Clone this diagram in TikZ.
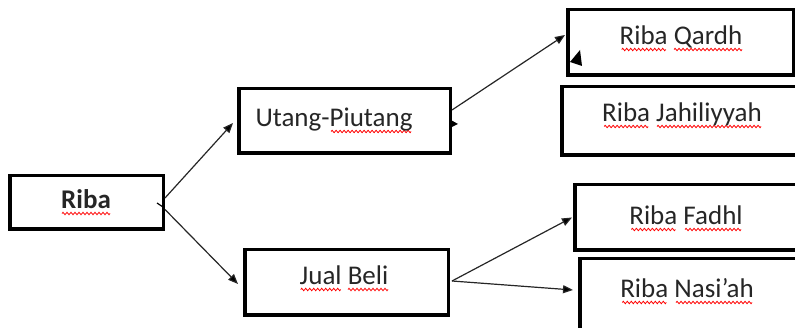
\documentclass[tikz,border=0pt]{standalone}
\usepackage{fontspec}
\setmainfont{Carlito}
\usetikzlibrary{arrows.meta,calc}
\newsavebox\wvbox
\newcommand\wavepiece{\tikz[baseline=0pt]{\path[use as bounding box] (0pt,-1.5pt) rectangle (4pt,1.5pt); \draw[red,line width=0.8pt] (0pt,0pt) sin (1pt,1.2pt) cos (2pt,0pt) sin (3pt,-1.2pt) cos (4pt,0pt);}}
\newcommand\wv[1]{\sbox\wvbox{#1}\leavevmode\rlap{\lower4.5pt\hbox to\wd\wvbox{\cleaders\hbox{\wavepiece}\hfill}}\usebox\wvbox}
\begin{document}
\begin{tikzpicture}[x=1pt,y=-1pt,
  box/.style={draw, line width=3.5pt, inner sep=0pt},
  lbl/.style={inner sep=0pt, anchor=base, text=black!85, font=\fontsize{27}{32}\selectfont},
  conn/.style={line width=1.2pt, draw=black!85, -{Triangle[length=10pt,width=8pt]}}]
\clip (0,0) rectangle (795,328);
% boxes
\node[box, minimum width=153.5, minimum height=53.5] (riba) at (86.5,202.5) {};
\node[box, minimum width=211.5, minimum height=64.5] (utang) at (344.5,121) {};
\node[box, minimum width=225.5, minimum height=65.5] (qardh) at (680.5,42.5) {};
\node[box, minimum width=246.5, minimum height=68.5] (jahil) at (685,121) {};
\node[box, minimum width=203.5, minimum height=65.5] (jual) at (346.5,282.5) {};
\node[box, minimum width=233.5, minimum height=65.5] (fadhl) at (691.5,217.5) {};
\node[box, minimum width=228.5, minimum height=74.5] (nasiah) at (694,296) {};
% labels
\node[lbl] (tRiba) at (86,209) {\textbf{\wv{Riba}}};
\node[lbl] (tUtang) at (334,127) {Utang-\wv{Piutang}};
\node[lbl] (tQardh) at (681,45) {\wv{Riba} \wv{Qardh}};
\node[lbl] (tJahil) at (682,122) {\wv{Riba} \wv{Jahiliyyah}};
\node[lbl] (tJual) at (344,285) {\wv{Jual} \wv{Beli}};
\node[lbl] (tFadhl) at (686,225) {\wv{Riba} \wv{Fadhl}};
\node[lbl] (tNasiah) at (687,298) {\wv{Riba} \wv{Nasi’ah}};
% connectors
\draw[conn] ($(riba.east)+(0,-4.5)$) -- ($(utang.west)+(-4,2)$);
\draw[conn] ($(riba.east)+(0,7)$) -- ($(jual.west)+(-5,1.5)$);
\draw[conn] ($(utang.east)+(0,-11)$) -- ($(qardh.west)+(-1,-7.5)$);
\draw[conn] ($(jual.east)+(2,-1.5)$) -- ($(fadhl.west)+(-1,0)$);
\draw[conn] ($(jual.east)+(2,-1.5)$) -- ($(nasiah.west)+(-5,-6)$);
% stray arrowhead fragments
\draw[line width=1.2pt] (157,203) -- (163,207);
\fill (449,119) -- (458,124) -- (450,128) -- cycle;
\fill (570,62) -- (580,50) -- (582,66) -- cycle;
\end{tikzpicture}
\end{document}
